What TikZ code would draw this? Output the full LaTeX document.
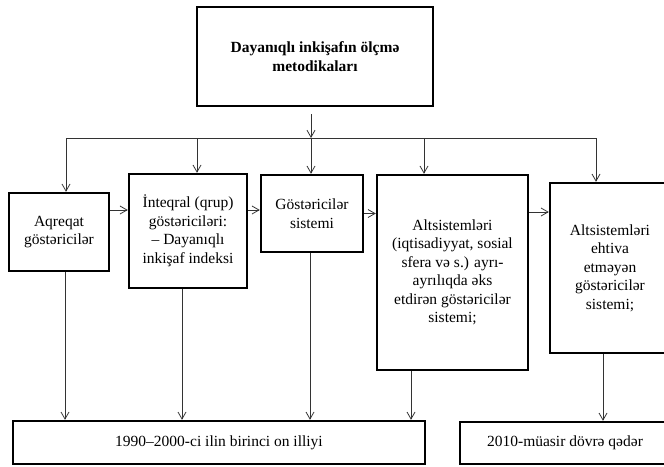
\documentclass[tikz,border=0pt]{standalone}
\usepackage{fontspec}
\setmainfont{Liberation Serif}
\usepackage{tikz}
\usetikzlibrary{arrows.meta}

\newcommand{\diagfont}{\fontsize{15.5}{18.5}\selectfont}

\begin{document}
\begin{tikzpicture}[>={Straight Barb[length=7pt,width=8pt]},
                    x=1pt, y=-1pt, semithick]
\tikzstyle{box}=[draw=black, line width=2.4pt, align=center,
                    inner sep=2pt, font=\diagfont]
\tikzstyle{link}=[draw=black!80, line width=0.8pt]
  \path[fill=white] (0,0) rectangle (664,466);
  \useasboundingbox (0,0) rectangle (664,466);
  %
  \node[box, font=\diagfont\bfseries, minimum width=236pt, minimum height=99pt]
       (meth) at (315,56.5) {Dayanıqlı inkişafın ölçmə\\metodikaları};
  %
  \node[box, minimum width=100pt, minimum height=78pt] (agg) at (59,232)
       {Aqreqat\\göstəricilər};
  \node[box, minimum width=118pt, minimum height=114pt] (integ) at (188,231)
       {İnteqral (qrup)\\göstəriciləri:\\– Dayanıqlı\\inkişaf indeksi};
  \node[box, minimum width=102pt, minimum height=77pt] (gsys) at (312,213.5)
       {Göstəricilər\\sistemi};
  \node[box, minimum width=151pt, minimum height=195pt] (subsys) at (452.5,272.5)
       {Altsistemləri\\(iqtisadiyyat, sosial\\sfera və s.) ayrı-\\ayrılıqda əks\\etdirən göstəricilər\\sistemi;};
  \node[box, minimum width=120pt, minimum height=170pt] (nosub) at (610,268)
       {Altsistemləri\\ehtiva\\etməyən\\göstəricilər\\sistemi;};
  %
  \node[box, minimum width=412pt, minimum height=43pt] (per1) at (219,442.5)
       {1990–2000-ci ilin birinci on illiyi};
  \node[box, minimum width=210pt, minimum height=42pt] (per2) at (565,443)
       {2010-müasir dövrə qədər};
  %
  \coordinate (b1) at (66,138);
  \coordinate (b2) at (197,138);
  \coordinate (b3) at (311,138);
  \coordinate (b4) at (424,138);
  \coordinate (b5) at (596,138);
  %
  \path[link, ->, shorten <=7pt] (meth.south -| b3) -- (b3);
  \path[link] (b1) -- (b5);
  \path[link, ->] (b1) -- (b1 |- agg.north);
  \path[link, ->] (b2) -- (b2 |- integ.north);
  \path[link, ->] (b3) -- (b3 |- gsys.north);
  \path[link, ->] (b4) -- (b4 |- subsys.north);
  \path[link, ->] (b5) -- (b5 |- nosub.north);
  %
  \path[link, ->] ([yshift=22pt]agg.east) -- ([yshift=22pt]agg.east -| integ.west);
  \path[link, ->] ([yshift=21pt]integ.east) -- ([yshift=21pt]integ.east -| gsys.west);
  \path[link, ->] (gsys.east) -- (gsys.east -| subsys.west);
  \path[link, ->] ([yshift=60.5pt]subsys.east) -- ([yshift=60.5pt]subsys.east -| nosub.west);
  %
  \path[link, ->] ([xshift=6pt]agg.south) -- ([xshift=6pt]agg.south |- per1.north);
  \path[link, ->] ([xshift=-6pt]integ.south) -- ([xshift=-6pt]integ.south |- per1.north);
  \path[link, ->] ([xshift=-2pt]gsys.south) -- ([xshift=-2pt]gsys.south |- per1.north);
  \path[link, ->] ([xshift=-41.5pt]subsys.south) -- ([xshift=-41.5pt]subsys.south |- per1.north);
  \path[link, ->] (b5 |- nosub.south) ++(7pt,0) coordinate (d5) -- (d5 |- per2.north);
\end{tikzpicture}
\end{document}
